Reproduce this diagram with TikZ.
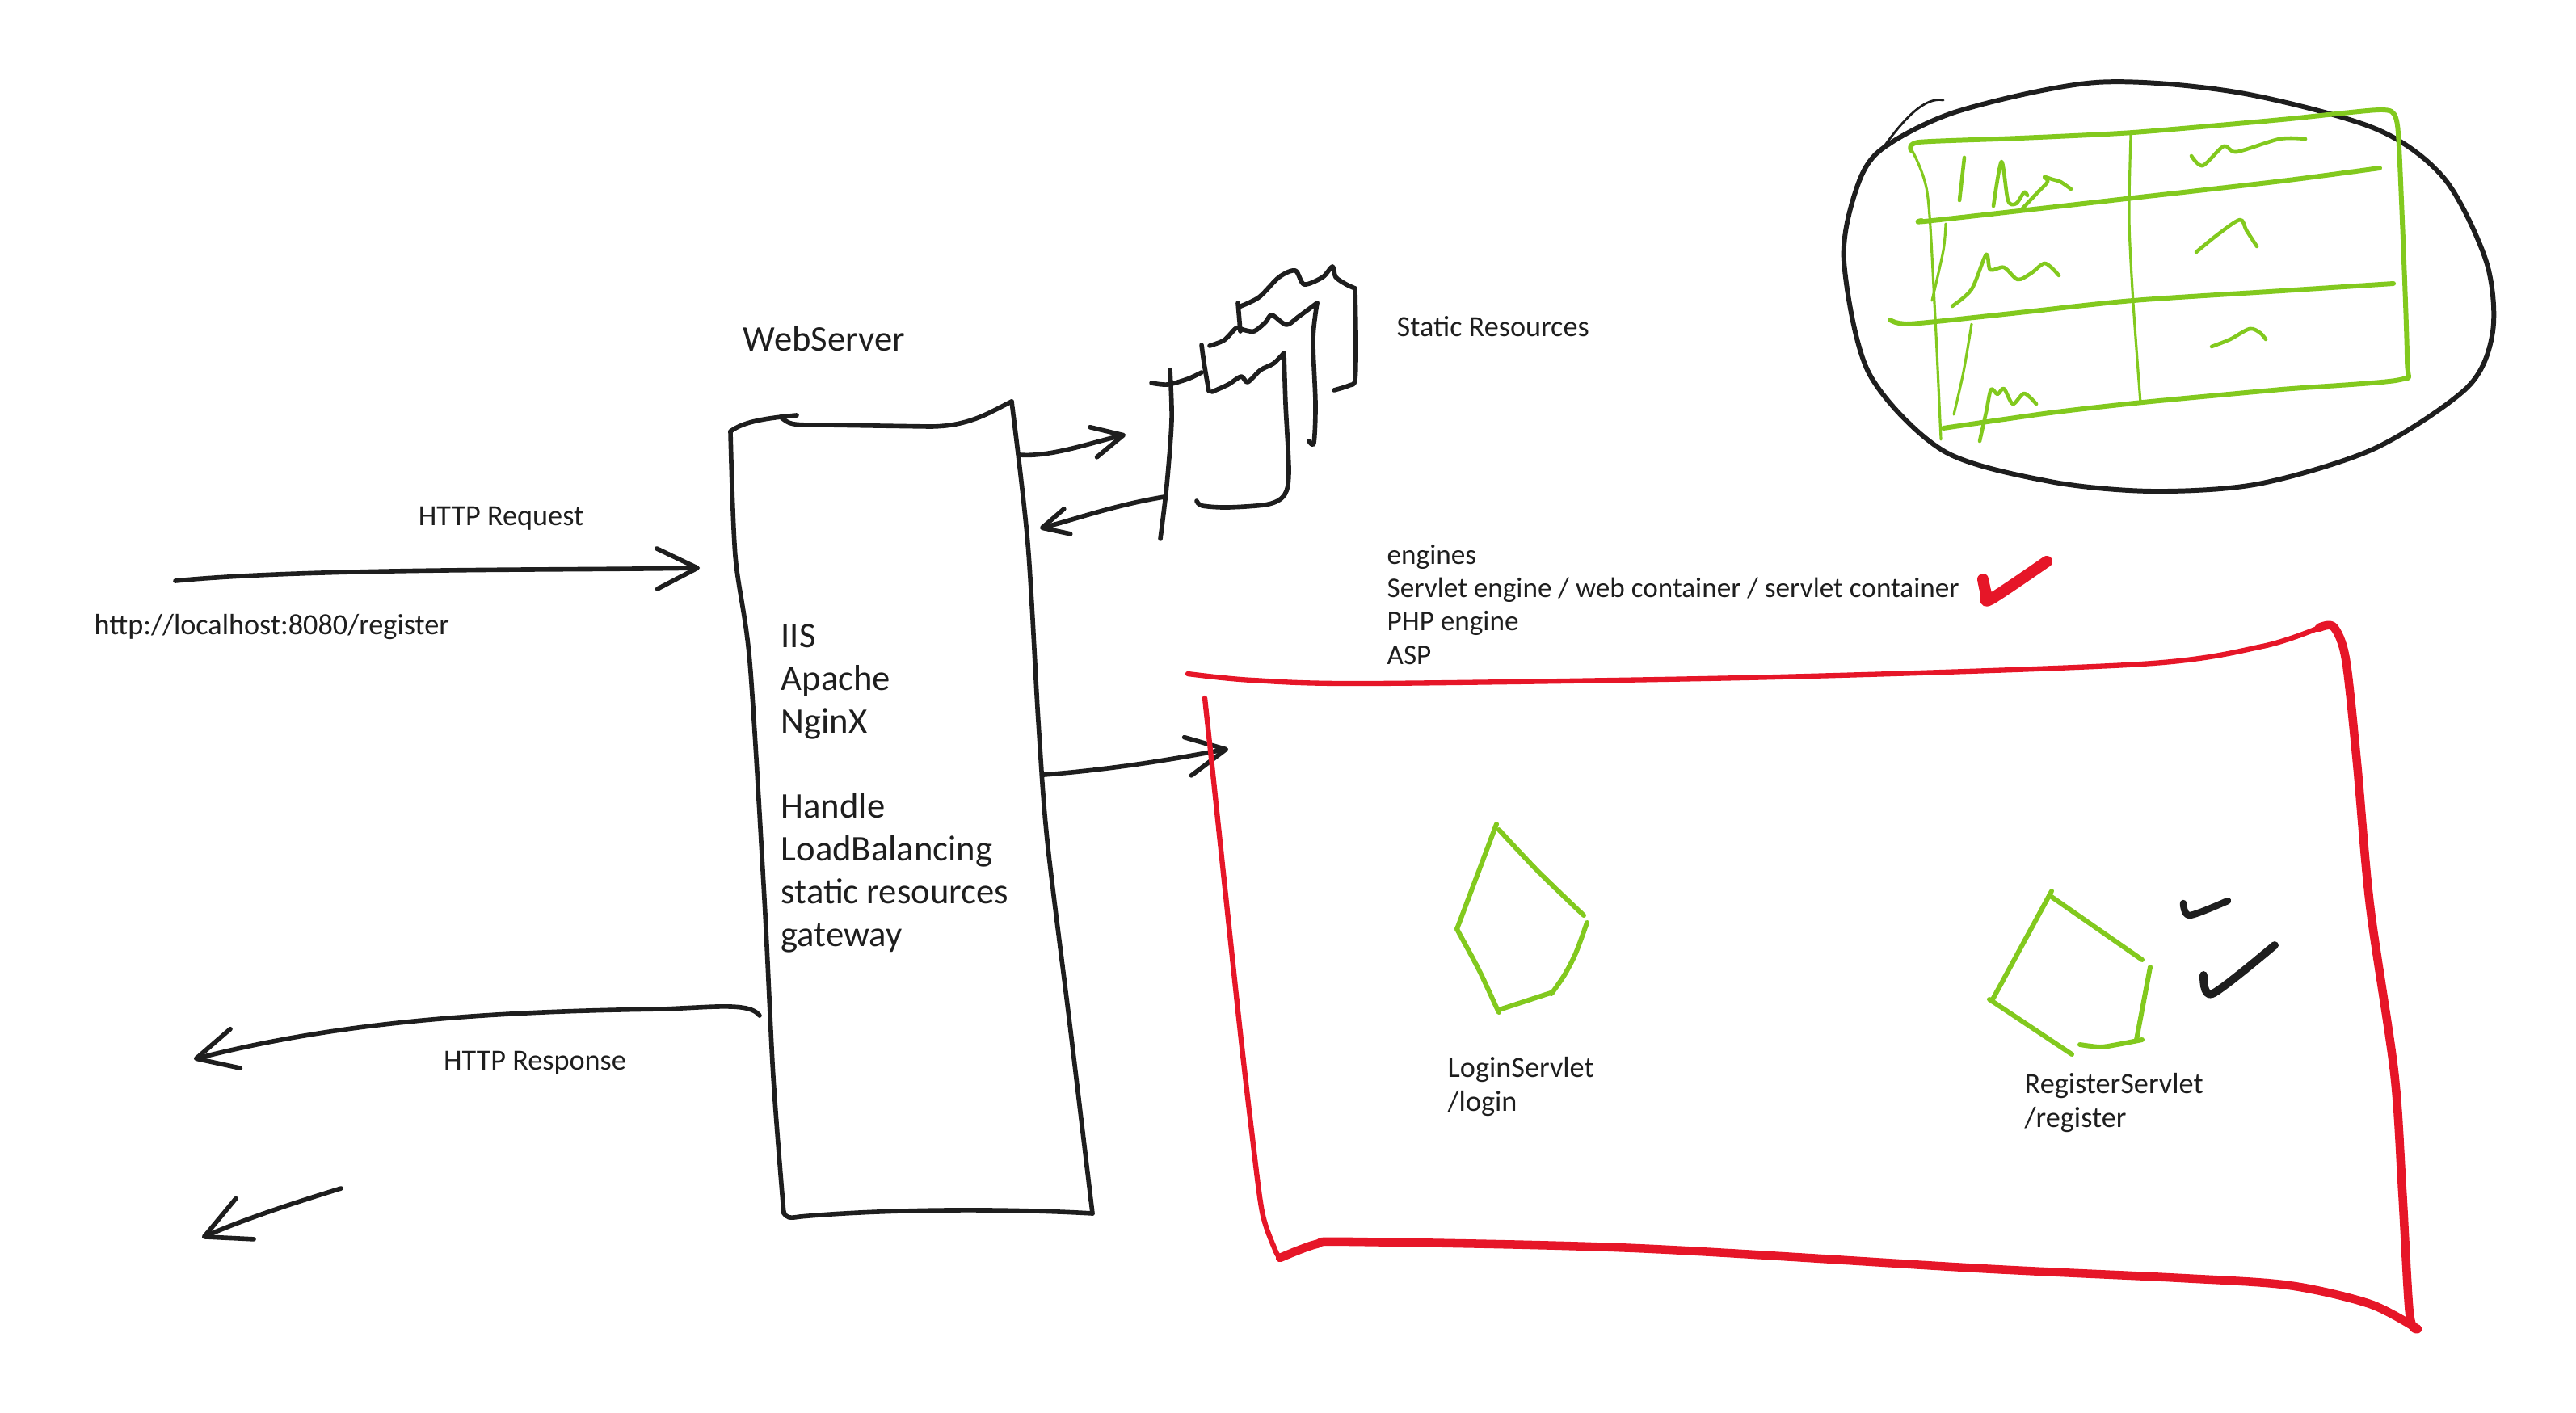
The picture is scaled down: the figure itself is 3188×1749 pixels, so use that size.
\documentclass[tikz,border=0pt]{standalone}
\usepackage{fontspec}
\setmainfont{Carlito}
\usetikzlibrary{arrows.meta}
\definecolor{inkblack}{RGB}{30,30,30}
\definecolor{skgreen}{RGB}{130,201,30}
\definecolor{skred}{RGB}{230,22,40}

\begin{document}
\begin{tikzpicture}[
  x=0.01cm, y=-0.01cm,
  ink/.style={draw=inkblack, line width=1.6pt, line cap=round, line join=round},
  grn/.style={draw=skgreen, line width=0.9pt, line cap=round, line join=round},
  grnb/.style={grn, line width=1.7pt},
  redl/.style={draw=skred, line cap=round, line join=round},
  arr/.style={ink, -{Straight Barb[round, length=#1, width=#1]}},
  arr/.default=5mm,
  hand/.style={font=\fontsize{12.7}{15}\selectfont, text=inkblack, inner sep=0pt, align=left},
  note/.style={font=\fontsize{10.3}{11.7}\selectfont, text=inkblack, inner sep=0pt, align=left},
]
  \useasboundingbox (0,0) rectangle (3188,1749);

  % web server
  \node[hand, anchor=base] (ws-title) at (1020,435) {WebServer};
  \draw[ink] (904,534) .. controls (920,522) and (945,518) .. (986,514);
  \draw[ink] (966,516) .. controls (978,526) .. (1020,526) -- (1150,528) .. controls (1200,528) and (1225,510) .. (1252,497);
  \draw[ink] plot[smooth] coordinates {(904,534) (910,688) (928,820) (946,1113) (957,1333) (970,1502)};
  \draw[ink] (970,1500) .. controls (972,1508) and (978,1508) .. (990,1506) .. controls (1100,1496) and (1250,1496) .. (1352,1502);
  \draw[ink] plot[smooth] coordinates {(1252,497) (1272,673) (1285,893) (1296,1040) (1323,1260) (1352,1502)};
  % base = last line
  \node[hand, anchor=base west] (ws-text) at (966,1171)
    {IIS\\Apache\\NginX\\[15pt]Handle\\LoadBalancing\\static resources\\gateway};

  % request / response
  \coordinate (req-start) at (217,719);
  \coordinate (ws-in) at (866,703);
  \draw[arr] (req-start) .. controls (380,703) and (700,706) .. (ws-in);
  \node[note, anchor=base] (req-lbl) at (620,650) {HTTP Request};
  \node[note, anchor=base west] (url-lbl) at (116,785) {http://localhost:8080/register};

  \coordinate (ws-out) at (940,1257);
  \coordinate (client-a) at (240,1311);
  \draw[arr] (ws-out) .. controls (928,1240) and (880,1247) .. (820,1249) .. controls (600,1252) and (420,1265) .. (client-a);
  \node[note, anchor=base] (resp-lbl) at (662,1324) {HTTP Response};

  \coordinate (resp2-start) at (422,1471);
  \coordinate (client-b) at (250,1532);
  \draw[arr=5.5mm] (resp2-start) .. controls (360,1490) and (300,1510) .. (client-b);

  % static resources
  \coordinate (ws-static) at (1262,563);
  \coordinate (static-in) at (1393,538);
  \draw[arr=3.8mm] (ws-static) .. controls (1300,566) and (1350,548) .. (static-in);
  \coordinate (static-out) at (1441,615);
  \coordinate (ws-back) at (1287,654);
  \draw[arr=3.2mm] (static-out) .. controls (1380,625) and (1330,643) .. (ws-back);

  \draw[ink] plot[smooth] coordinates {(1448,458) (1450,520) (1444,600) (1436,667)};
  \draw[ink] plot[smooth] coordinates {(1425,474) (1445,476) (1470,469) (1487,461)};
  \draw[ink] plot[smooth, tension=0.5] coordinates {(1500,485) (1520,476) (1536,466) (1544,473) (1560,458) (1576,450) (1589,437)};
  \draw[ink] plot[smooth] coordinates {(1589,437) (1591,500) (1595,583) (1590,612) (1570,624) (1520,628) (1488,626) (1481,620)};
  \draw[ink] (1487,427) .. controls (1490,450) .. (1496,484);
  \draw[ink] plot[smooth, tension=0.5] coordinates {(1497,428) (1515,421) (1530,406) (1538,408) (1552,410) (1566,399) (1574,390) (1592,402) (1607,392) (1630,375)};
  \draw[ink] (1532,375) -- (1535,410);
  \draw[ink] plot[smooth] coordinates {(1630,375) (1625,420) (1628,500) (1626,548) (1620,546)};
  \draw[ink] plot[smooth, tension=0.5] coordinates {(1533,380) (1558,368) (1583,343) (1603,335) (1614,352) (1637,343) (1649,330) (1653,343) (1666,352) (1677,357)};
  \draw[ink] plot[smooth] coordinates {(1677,357) (1678,420) (1677,470) (1670,477) (1651,483)};
  \node[note, anchor=base west] (static-lbl) at (1728,417) {Static Resources};

  % database
  \draw[ink, line width=1.7pt] plot[smooth cycle] coordinates {(2327,186) (2422,138) (2594,102) (2767,114) (2939,159) (3025,221) (3077,324) (3085,410) (3054,479) (2939,555) (2795,599) (2663,608) (2537,596) (2405,558) (2313,462) (2282,324) (2296,238)};
  \draw[ink, line width=0.8pt] (2327,188) .. controls (2360,140) and (2385,120) .. (2405,124);
  \draw[grnb] plot[smooth, tension=0.4] coordinates {(2365,186) (2375,176) (2500,171) (2640,164) (2824,148) (2945,136) (2965,146) (2970,203) (2979,444) (2970,470) (2824,482) (2652,498) (2537,511) (2405,530)};
  \draw[grn] plot[smooth] coordinates {(2365,184) (2385,238) (2394,375) (2402,544)};
  \draw[grn] plot[smooth] coordinates {(2637,167) (2635,272) (2640,375) (2649,499)};
  \draw[grnb] plot[smooth] coordinates {(2378,273) (2382,274) (2508,260) (2640,245) (2824,224) (2945,208)};
  \draw[grnb] plot[smooth] coordinates {(2339,396) (2350,400) (2376,400) (2508,386) (2640,372) (2824,360) (2962,351)};
  \draw[grn, line width=1.3pt] (2431,195) -- (2425,248);
  \draw[grn, line width=1.3pt] plot[smooth] coordinates {(2467,255) (2477,200) (2485,248) (2495,252) (2505,238) (2509,242)};
  \draw[grn, line width=1.3pt] plot[smooth] coordinates {(2503,258) (2520,240) (2534,225) (2530,219) (2540,222) (2550,225) (2563,234)};
  \draw[grn, line width=1.3pt] plot[smooth] coordinates {(2712,193) (2726,205) (2752,181) (2768,188) (2821,172) (2853,172)};
  \draw[grn] plot[smooth] coordinates {(2408,277) (2405,310) (2391,372)};
  \draw[grn, line width=1.3pt] plot[smooth] coordinates {(2416,379) (2440,358) (2458,315) (2463,334) (2480,331) (2497,346) (2514,338) (2531,326) (2548,341)};
  \draw[grn, line width=1.3pt] plot[smooth] coordinates {(2718,312) (2745,290) (2772,272) (2780,285) (2793,305)};
  \draw[grn] plot[smooth] coordinates {(2440,401) (2430,460) (2418,513)};
  \draw[grn, line width=1.3pt] plot[smooth] coordinates {(2450,546) (2458,510) (2464,482) (2472,488) (2480,481) (2491,500) (2505,487) (2520,500)};
  \draw[grn, line width=1.3pt] plot[smooth] coordinates {(2737,429) (2760,420) (2784,407) (2797,412) (2804,420)};

  % engines
  \node[note, font=\fontsize{10}{11.7}\selectfont, anchor=base west] (engines-lbl) at (1716,822)
    {engines\\Servlet engine / web container / servlet container\\PHP engine\\ASP};
  \draw[redl, line width=4pt] plot[smooth] coordinates {(2454,717) (2458,735) (2463,742) (2533,695)};

  % container
  \coordinate (ws-engine) at (1292,959);
  \coordinate (engine-in) at (1520,927);
  \draw[arr=4.8mm] (ws-engine) .. controls (1380,952) and (1450,940) .. (engine-in);
  \draw[redl, line width=1.8pt] plot[smooth] coordinates {(1470,834) (1550,842) (1700,846) (2200,838) (2650,822) (2800,800) (2870,777)};
  \draw[redl, line width=3pt] plot[smooth] coordinates {(2870,777) (2888,776) (2903,816) (2917,945) (2933,1121) (2963,1327) (2973,1474) (2982,1626) (2992,1645)};
  \draw[redl, line width=3pt] plot[smooth] coordinates {(2992,1645) (2933,1614) (2833,1591) (2700,1582) (2450,1570) (2024,1545) (1673,1537) (1629,1540) (1584,1557)};
  \draw[redl, line width=1.8pt] plot[smooth] coordinates {(1584,1557) (1578,1547) (1562,1500) (1549,1400) (1533,1260) (1502,967) (1491,864)};

  % servlets
  \draw[grnb] (1852,1020) -- (1803,1150);
  \draw[grnb] plot[smooth] coordinates {(1855,1027) (1900,1075) (1939,1113) (1960,1133)};
  \draw[grnb] plot[smooth] coordinates {(1964,1142) (1950,1180) (1936,1207) (1920,1230)};
  \draw[grnb] (1922,1228) -- (1855,1250);
  \draw[grnb] plot[smooth] coordinates {(1803,1150) (1830,1200) (1852,1247) (1855,1253)};
  \node[note, anchor=base west] (login-lbl) at (1791,1375) {LoginServlet\\/login};

  \draw[grnb] (2539,1103) -- (2466,1237);
  \draw[grnb] (2536,1108) -- (2651,1188);
  \draw[grnb] (2661,1197) -- (2644,1287);
  \draw[grnb] plot[smooth] coordinates {(2651,1287) (2620,1293) (2599,1296) (2574,1293)};
  \draw[grnb] (2462,1237) -- (2564,1305);
  \node[note, anchor=base west] (register-lbl) at (2505,1395) {RegisterServlet\\/register};

  \draw[ink, line width=2.4pt] plot[smooth] coordinates {(2702,1118) (2710,1133) (2757,1115)};
  \draw[ink, line width=2.8pt] plot[smooth] coordinates {(2727,1207) (2738,1230) (2815,1170)};
\end{tikzpicture}
\end{document}
